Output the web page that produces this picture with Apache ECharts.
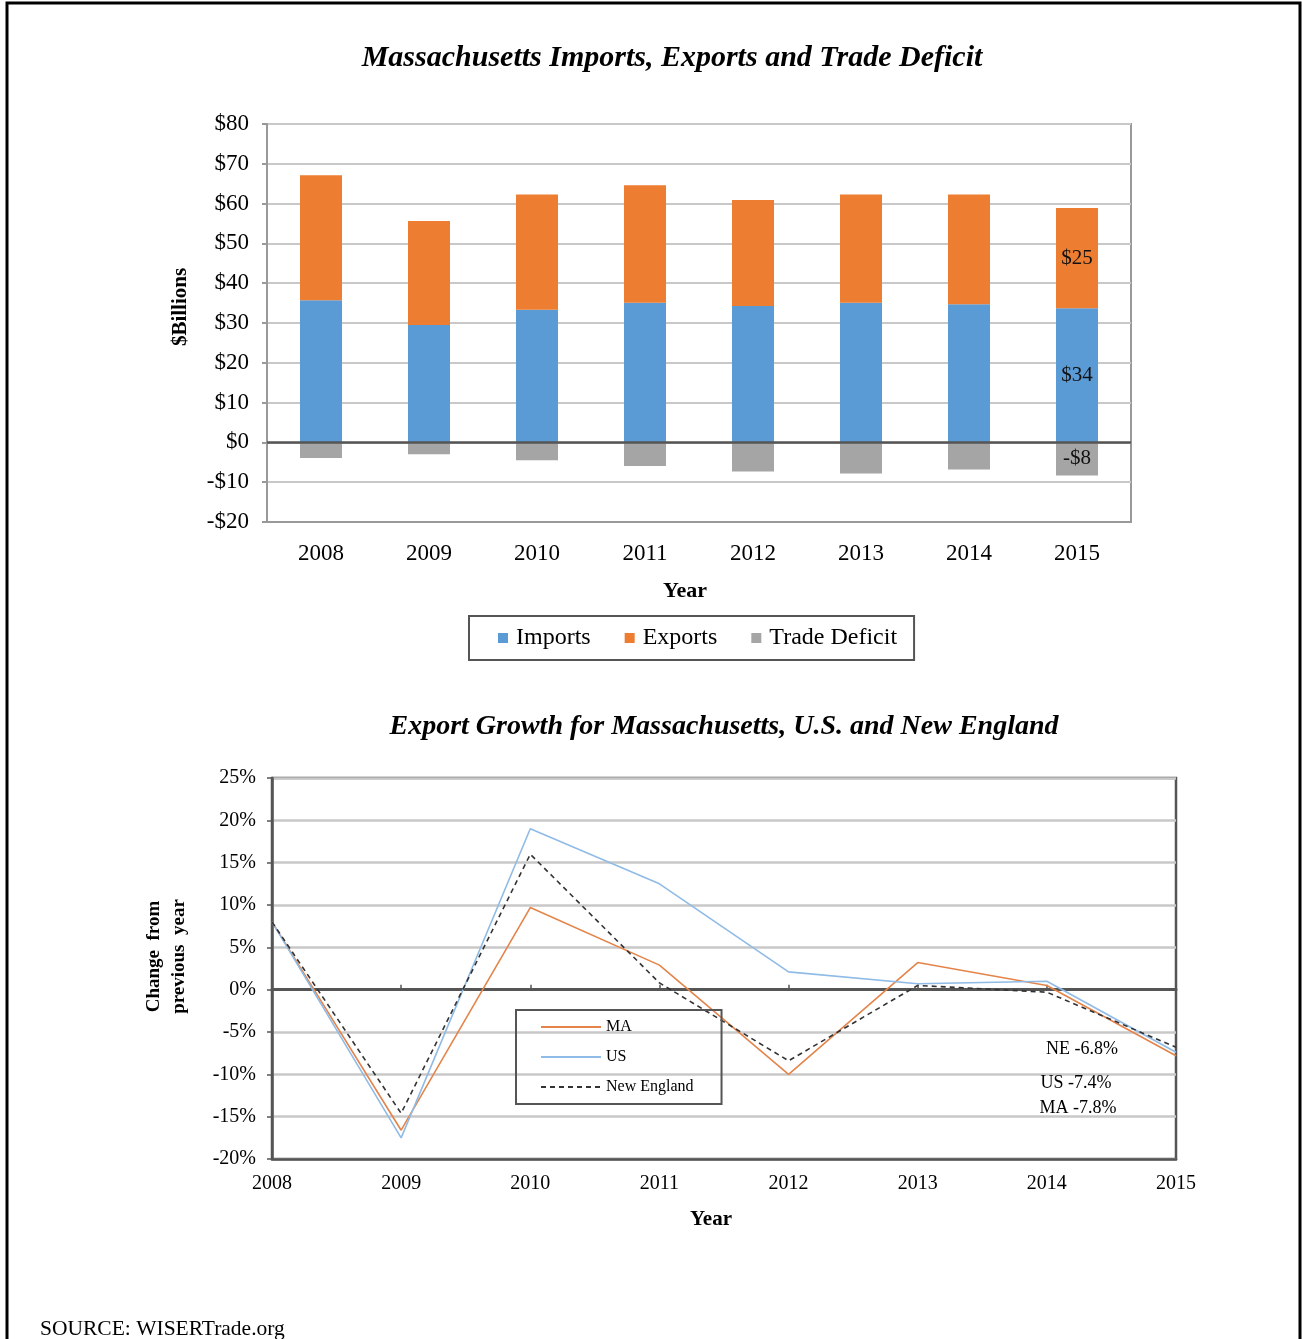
<!DOCTYPE html>
<html><head><meta charset="utf-8">
<script src="https://cdn.jsdelivr.net/npm/echarts@6/dist/echarts.min.js"></script>
<style>html,body{margin:0;padding:0;background:#fff}#c{width:1302px;height:1339px}</style>
</head><body><div id="c"></div><script>
// ---- data ----
const years = ['2008', '2009', '2010', '2011', '2012', '2013', '2014', '2015'];
const imports = [35.7, 29.5, 33.3, 35.1, 34.3, 35.1, 34.7, 33.7];
const exportsV = [31.4, 26.1, 29.0, 29.5, 26.6, 27.2, 27.6, 25.2];
const deficit = [-3.9, -3.0, -4.5, -5.9, -7.3, -7.8, -6.8, -8.3];

const growthMA = [8.0, -16.6, 9.7, 2.9, -10.0, 3.2, 0.5, -7.8];
const growthUS = [8.0, -17.5, 19.0, 12.5, 2.1, 0.7, 1.0, -7.4];
const growthNE = [8.0, -14.6, 16.0, 0.8, -8.4, 0.5, -0.3, -6.8];
const endLabels = { MA: 'MA -7.8%', US: 'US -7.4%', NE: 'NE -6.8%' };

const titleTop = 'Massachusetts Imports, Exports and Trade Deficit';
const titleBottom = 'Export Growth for Massachusetts, U.S. and New England';
const sourceText = 'SOURCE: WISERTrade.org';

// ---- chart ----
const SERIF = '"Liberation Serif", "Times New Roman", serif';
const chart = echarts.init(document.getElementById('c'));

function money(v) { return v < 0 ? '-$' + Math.round(-v) : '$' + Math.round(v); }
function withLastLabel(arr, labelOpt) {
  return arr.map((v, i) => i === arr.length - 1 ? { value: v, label: labelOpt(v) } : v);
}
const barLabel = v => ({ show: true, position: 'inside', formatter: money(v), fontFamily: SERIF, fontSize: 21, color: '#111' });
const lineEnd = (txt, off) => () => ({ show: true, position: 'inside', offset: off, formatter: txt, fontFamily: SERIF, fontSize: 18, color: '#000' });

const option = {
  animation: false,
  backgroundColor: '#fff',
  graphic: [
    { type: 'rect', shape: { x: 7, y: 3, width: 1293, height: 1400 }, style: { fill: 'none', stroke: '#000', lineWidth: 3 }, silent: true },
    { type: 'text', x: 672, y: 58, style: { text: titleTop, font: 'italic bold 30px ' + SERIF, fill: '#000', align: 'center', verticalAlign: 'middle' } },
    { type: 'text', x: 724, y: 727, style: { text: titleBottom, font: 'italic bold 28px ' + SERIF, fill: '#000', align: 'center', verticalAlign: 'middle' } },
    { type: 'text', x: 40, y: 1329, style: { text: sourceText, font: '21.5px ' + SERIF, fill: '#000', align: 'left', verticalAlign: 'middle' } }
  ],
  legend: [
    {
      left: 469, top: 616, padding: [10, 17, 10, 29], itemWidth: 10, itemHeight: 10, itemGap: 34, icon: 'rect',
      borderColor: '#555', borderWidth: 2,
      textStyle: { fontFamily: SERIF, fontSize: 24, color: '#000', padding: [0, 0, 0, 3] },
      data: ['Imports', 'Exports', 'Trade Deficit']
    },
    {
      orient: 'vertical', left: 516, top: 1010, padding: [9, 28, 9, 24], itemWidth: 60, itemHeight: 14, itemGap: 14,
      borderColor: '#555', borderWidth: 2, itemStyle: { opacity: 0 },
      textStyle: { fontFamily: SERIF, fontSize: 16, color: '#000' },
      data: ['MA', 'US', 'New England']
    }
  ],
  grid: [
    { left: 267, top: 124, width: 864, height: 398, show: true, borderColor: '#999', borderWidth: 2 },
    { left: 272, top: 778, width: 904, height: 381, show: true, borderColor: '#555', borderWidth: 2.5 }
  ],
  xAxis: [
    {
      gridIndex: 0, type: 'category', data: years,
      axisLine: { onZero: false, lineStyle: { color: '#999', width: 2 } },
      axisTick: { show: false },
      axisLabel: { fontFamily: SERIF, fontSize: 23, color: '#000', margin: 20 },
      name: 'Year', nameLocation: 'middle', nameGap: 58,
      nameTextStyle: { fontFamily: SERIF, fontSize: 22, fontWeight: 'bold', color: '#000', padding: [0, 28, 0, 0] }
    },
    {
      gridIndex: 1, type: 'category', data: years, boundaryGap: false,
      axisLine: { onZero: false, lineStyle: { color: '#555', width: 2.5 } },
      axisTick: { show: false },
      axisLabel: { fontFamily: SERIF, fontSize: 20, color: '#000', margin: 15 },
      name: 'Year', nameLocation: 'middle', nameGap: 50,
      nameTextStyle: { fontFamily: SERIF, fontSize: 21, fontWeight: 'bold', color: '#000', padding: [0, 26, 0, 0] }
    },
    {
      gridIndex: 1, type: 'category', data: years, boundaryGap: false, position: 'top',
      axisLine: { onZero: true, lineStyle: { color: '#555', width: 3 } },
      axisTick: { show: true, length: 5, lineStyle: { color: '#555', width: 1.5 } },
      axisLabel: { show: false }
    }
  ],
  yAxis: [
    {
      gridIndex: 0, type: 'value', min: -20, max: 80, interval: 10,
      axisLine: { show: true, lineStyle: { color: '#999', width: 2 } },
      axisTick: { show: true, length: 5, lineStyle: { color: '#999', width: 2 } },
      splitLine: { lineStyle: { color: '#c8c8c8', width: 2 } },
      axisLabel: { formatter: money, fontFamily: SERIF, fontSize: 23, color: '#000', margin: 18 },
      name: '$Billions', nameLocation: 'middle', nameGap: 76,
      nameTextStyle: { fontFamily: SERIF, fontSize: 21, fontWeight: 'bold', color: '#000', padding: [0, 0, 0, 32] }
    },
    {
      gridIndex: 1, type: 'value', min: -20, max: 25, interval: 5,
      axisLine: { show: true, lineStyle: { color: '#555', width: 2.5 } },
      axisTick: { show: true, length: 5, lineStyle: { color: '#555', width: 1.5 } },
      splitLine: { lineStyle: { color: '#c8c8c8', width: 2.5 } },
      axisLabel: { formatter: v => v + '%', fontFamily: SERIF, fontSize: 20, color: '#000', margin: 16 },
      name: 'Change  from\nprevious  year', nameLocation: 'middle', nameGap: 80,
      nameTextStyle: { fontFamily: SERIF, fontSize: 19, lineHeight: 25, fontWeight: 'bold', color: '#000', padding: [0, 0, 0, 24] }
    }
  ],
  series: [
    {
      name: 'Imports', type: 'bar', stack: 'trade', xAxisIndex: 0, yAxisIndex: 0, barWidth: 42,
      itemStyle: { color: '#5b9bd5' }, data: withLastLabel(imports, barLabel),
      markLine: {
        silent: true, symbol: ['none', 'none'], label: { show: false },
        lineStyle: { color: '#555', width: 2.5, type: 'solid' }, data: [{ yAxis: 0 }]
      }
    },
    {
      name: 'Exports', type: 'bar', stack: 'trade', xAxisIndex: 0, yAxisIndex: 0, barWidth: 42,
      itemStyle: { color: '#ed7d31' }, data: withLastLabel(exportsV, barLabel)
    },
    {
      name: 'Trade Deficit', type: 'bar', stack: 'trade', xAxisIndex: 0, yAxisIndex: 0, barWidth: 42,
      itemStyle: { color: '#a5a5a5' }, data: withLastLabel(deficit, barLabel)
    },
    {
      name: 'MA', type: 'line', xAxisIndex: 1, yAxisIndex: 1, symbol: 'circle', symbolSize: 0.01, showSymbol: true,
      lineStyle: { color: '#e4844a', width: 1.6 }, itemStyle: { color: '#e4844a' },
      data: withLastLabel(growthMA, lineEnd(endLabels.MA, [-98, 53])), z: 3
    },
    {
      name: 'US', type: 'line', xAxisIndex: 1, yAxisIndex: 1, symbol: 'circle', symbolSize: 0.01, showSymbol: true,
      lineStyle: { color: '#8fbbe6', width: 1.6 }, itemStyle: { color: '#8fbbe6' },
      data: withLastLabel(growthUS, lineEnd(endLabels.US, [-100, 31])), z: 3
    },
    {
      name: 'New England', type: 'line', xAxisIndex: 1, yAxisIndex: 1, symbol: 'circle', symbolSize: 0.01, showSymbol: true,
      lineStyle: { color: '#333', width: 1.6, type: [5, 4] }, itemStyle: { color: '#333' },
      data: withLastLabel(growthNE, lineEnd(endLabels.NE, [-94, 2])), z: 3
    }
  ]
};
chart.setOption(option);
</script></body></html>
